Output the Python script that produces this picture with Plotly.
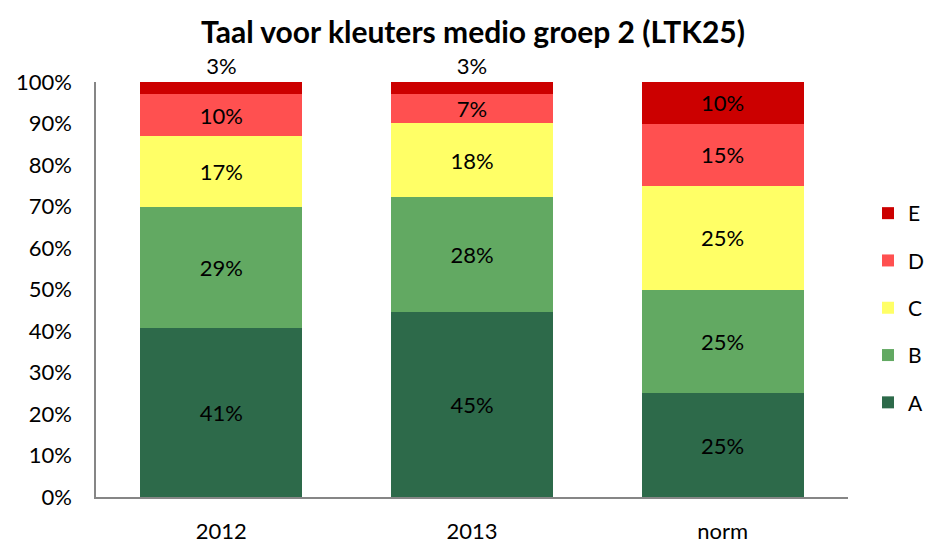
import plotly.graph_objects as go

categories = ["2012", "2013", "norm"]
levels = ["A", "B", "C", "D", "E"]
A = [40.7, 44.6, 25.0]
B = [29.2, 27.7, 25.0]
C = [17.1, 17.8, 25.0]
D = [10.0, 7.0, 15.0]
E = [3.0, 2.9, 10.0]
series = [A, B, C, D, E]
colors = ["#2D6A4A", "#62A962", "#FFFF66", "#FF5050", "#CC0000"]
y_ticks = [0, 10, 20, 30, 40, 50, 60, 70, 80, 90, 100]
y_tick_labels = [f"{v}%" for v in y_ticks]

font = "Lato, Open Sans, sans-serif"
fig = go.Figure()
for i, (name, vals, col) in enumerate(zip(levels, series, colors)):
    tp = "inside"
    if name == "E":
        tp = ["outside", "outside", "inside"]
    fig.add_trace(go.Bar(
        x=categories, y=vals, name=name, marker=dict(color=col, line=dict(width=0)),
        texttemplate="%{y:.0f}%", textposition=tp, insidetextanchor="middle",
        textfont=dict(size=22, color="black", family=font),
        constraintext="none", cliponaxis=False, legendgroup=name,
        legendrank=len(levels) - i,
    ))

fig.update_layout(
    barmode="stack", bargap=0.355,
    width=926, height=543,
    margin=dict(l=96, r=78, t=82, b=46),
    paper_bgcolor="white", plot_bgcolor="white",
    font=dict(family=font, size=22, color="black"),
    title=dict(text="<b>Taal voor kleuters medio groep 2 (LTK25)</b>", x=473 / 926, xanchor="center",
               xref="container", yref="container",
               y=1 - 32 / 543, yanchor="middle", font=dict(size=30, family=font)),
    legend=dict(xref="container", yref="container", x=868 / 926, xanchor="left",
                y=1 - 308 / 543, yanchor="middle",
                traceorder="grouped", tracegroupgap=17, borderwidth=0,
                font=dict(size=21, family=font), itemwidth=30),
    showlegend=True,
)
fig.update_yaxes(range=[0, 100], tickvals=y_ticks, ticktext=y_tick_labels, showgrid=False,
                 showline=True, linecolor="#868686", linewidth=1.5, ticks="", zeroline=False,
                 tickfont=dict(size=22, family=font), ticklabelstandoff=18, automargin=False)
fig.update_xaxes(showline=True, linecolor="#868686", linewidth=1.5, ticks="",
                 tickfont=dict(size=22, family=font), ticklabelstandoff=14, automargin=False)
fig.write_html("out.html", post_script="document.body.style.margin='0px';",
               config={"displayModeBar": False})
